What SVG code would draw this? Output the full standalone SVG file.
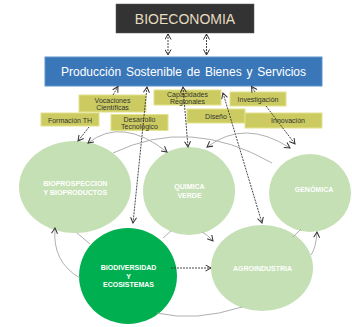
<svg xmlns="http://www.w3.org/2000/svg" width="352" height="327" viewBox="0 0 352 327">
<style>
text{font-family:"Liberation Sans",Arial,sans-serif}
.yb{fill:#cccb62;stroke:#e2e28a;stroke-width:1}
.yt{font-size:7px;fill:#333;text-anchor:middle}
.lc{fill:#c5e0b4}
.dc{fill:#00b050}
.ct{font-size:7px;font-weight:bold;fill:#fff;text-anchor:middle}
.dash{fill:none;stroke:#333;stroke-width:0.9;stroke-dasharray:2 1}
.sol{fill:none;stroke:#a6a6a6;stroke-width:0.9}
</style>
<defs>
<marker id="ah" markerWidth="7" markerHeight="7" refX="6" refY="3.5" orient="auto-start-reverse" markerUnits="userSpaceOnUse">
<path d="M0.5,0.5 L6,3.5 L0.5,6.5" fill="none" stroke="#333" stroke-width="1"/>
</marker>
</defs>
<rect width="352" height="327" fill="#fff"/>
<g id="bioeconomia">
<rect x="116" y="4" width="138" height="29" fill="#333333" stroke="#555" stroke-width="0.5"/>
<text x="185" y="24" font-size="14" fill="#e6dcc0" text-anchor="middle">BIOECONOMIA</text>
</g>
<g id="produccion">
<rect x="45" y="57" width="277" height="29" fill="#3a77b9" stroke="#5f93cc" stroke-width="1"/>
<text x="183.5" y="75.5" font-size="12" fill="#fff" text-anchor="middle" word-spacing="1.5">Producción Sostenible de Bienes y Servicios</text>
</g>
<g id="bioprospeccion">
<ellipse class="lc" cx="75" cy="187" rx="56" ry="46"/>
<text class="ct" x="75.3" y="185.5">BIOPROSPECCION</text>
<text class="ct" x="75.3" y="194.5">Y BIOPRODUCTOS</text>
</g>
<g id="quimica">
<ellipse class="lc" cx="189" cy="191" rx="46" ry="44"/>
<text class="ct" x="189.5" y="189">QUIMICA</text>
<text class="ct" x="189.5" y="198">VERDE</text>
</g>
<g id="genomica">
<ellipse class="lc" cx="310" cy="193" rx="41" ry="39"/>
<text class="ct" x="314" y="192">GENÓMICA</text>
</g>
<g id="agroindustria">
<ellipse class="lc" cx="262" cy="268" rx="51" ry="43"/>
<text class="ct" x="262.5" y="271">AGROINDUSTRIA</text>
</g>
<g id="biodiversidad">
<ellipse class="dc" cx="128" cy="276" rx="49" ry="48"/>
<text class="ct" x="128.5" y="270">BIODIVERSIDAD</text>
<text class="ct" x="128.5" y="278.5">Y</text>
<text class="ct" x="128.5" y="287">ECOSISTEMAS</text>
</g>
<g id="vocaciones">
<rect class="yb" x="79" y="95" width="67" height="17"/>
<text class="yt" x="112.5" y="102.5">Vocaciones</text>
<text class="yt" x="112.5" y="110">Científicas</text>
</g>
<g id="formacion">
<rect class="yb" x="41" y="113" width="58" height="13"/>
<text class="yt" x="70" y="122.5">Formación TH</text>
</g>
<g id="desarrollo">
<rect class="yb" x="111" y="114.5" width="57" height="16"/>
<text class="yt" x="139.5" y="121.5">Desarrollo</text>
<text class="yt" x="139.5" y="129">Tecnológico</text>
</g>
<g id="capacidades">
<rect class="yb" x="154" y="90" width="67" height="15"/>
<text class="yt" x="187.5" y="96.5">Capacidades</text>
<text class="yt" x="187.5" y="104">Regionales</text>
</g>
<g id="investigacion">
<rect class="yb" x="230" y="92" width="56" height="14"/>
<text class="yt" x="258" y="101.5">Investigación</text>
</g>
<g id="diseno">
<rect class="yb" x="187" y="109" width="58" height="14"/>
<text class="yt" x="216" y="118.5">Diseño</text>
</g>
<g id="innovacion">
<rect class="yb" x="245" y="113" width="77" height="15"/>
<text class="yt" x="288" y="123">Innovación</text>
</g>
<g id="connectors">
<path class="dash" d="M168,34 L168,55" marker-start="url(#ah)" marker-end="url(#ah)"/>
<path class="dash" d="M206.5,34 L206.5,55" marker-start="url(#ah)" marker-end="url(#ah)"/>
<path class="dash" d="M113,95 L118,86.5" marker-end="url(#ah)"/>
<path class="dash" d="M89,127 L78,141" marker-end="url(#ah)"/>
<path class="dash" d="M147,87 L133,223" marker-start="url(#ah)" marker-end="url(#ah)"/>
<path class="dash" d="M183,87 L188,147" marker-start="url(#ah)" marker-end="url(#ah)"/>
<path class="dash" d="M223,93 L262,223" marker-start="url(#ah)" marker-end="url(#ah)"/>
<path class="dash" d="M255,92 L251.5,86.5" marker-end="url(#ah)"/>
<path class="dash" d="M266,106 L295,144" marker-end="url(#ah)"/>
<path class="dash" d="M171,268 L211,268" marker-end="url(#ah)"/>
<path class="sol" d="M88,143 Q122,116.5 167,152" marker-start="url(#ah)" marker-end="url(#ah)"/>
<path class="sol" d="M207,147 Q245,118.5 290,148" marker-start="url(#ah)" marker-end="url(#ah)"/>
<path class="sol" d="M113,153 Q190,116 272,163"/>
<path class="sol" d="M202,232 Q208,235 213,241" marker-end="url(#ah)"/>
<path class="sol" d="M77,233 L90,244"/>
<path class="sol" d="M163,238 L171,231"/>
<path class="sol" d="M80,278 Q52,262 55,228" marker-end="url(#ah)"/>
<path class="sol" d="M311,255 Q316,248 317,232" marker-end="url(#ah)"/>
<path class="sol" d="M293,237 L301,229"/>
<path class="sol" d="M157,313 Q195,322 242,307"/>
</g>
</svg>
